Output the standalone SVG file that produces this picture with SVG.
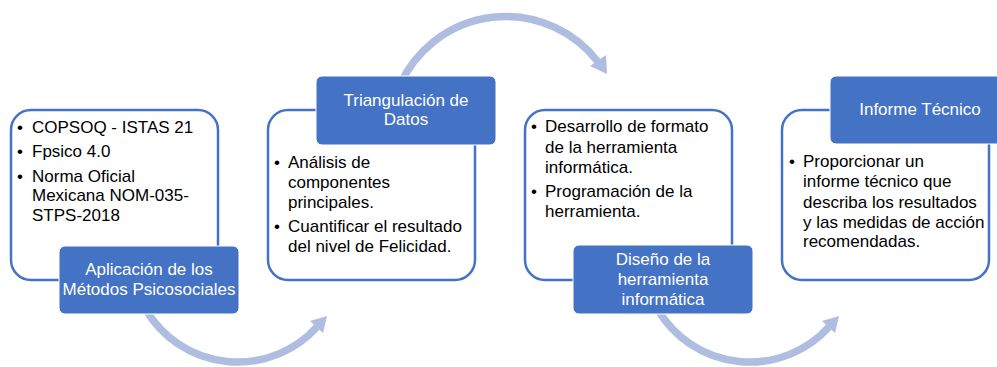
<svg xmlns="http://www.w3.org/2000/svg" width="997" height="367" viewBox="0 0 997 367">
<style>
.card{fill:#fff;stroke:#4472C4;stroke-width:2.5}
.lab{fill:#4472C4;stroke:#fff;stroke-width:1}
.t{font-family:"Liberation Sans",Arial,sans-serif;font-size:17px;fill:#000}
.w{font-family:"Liberation Sans",Arial,sans-serif;font-size:17px;fill:#fff;text-anchor:middle}
.arc{fill:none;stroke:#AEBDE0;stroke-width:7.5}
.head{fill:#AEBDE0}
</style>
<rect width="997" height="367" fill="#fff"/>
<g id="connectors">
<path class="arc" d="M146,310 A107,107 0 0 0 317,327"/>
<polygon class="head" points="327,316 310,321 323,333"/>
<path class="arc" d="M400,85 A116,116 0 0 1 598,62"/>
<polygon class="head" points="607,74 590,66 606,55"/>
<path class="arc" d="M658,310 A107,107 0 0 0 829,327"/>
<polygon class="head" points="839,316 822,321 835,333"/>
</g>
<g id="node1">
<rect class="card" x="11" y="110" width="207" height="170" rx="20"/>
<text class="t" x="17" y="133">•</text><text class="t" x="32" y="133">COPSOQ - ISTAS 21</text>
<text class="t" x="17" y="157">•</text><text class="t" x="32" y="157">Fpsico 4.0</text>
<text class="t" x="17" y="181.5">•</text><text class="t" x="32" y="181.5">Norma Oficial</text>
<text class="t" x="32" y="201">Mexicana NOM-035-</text>
<text class="t" x="32" y="220.5">STPS-2018</text>
<rect class="lab" x="59" y="246" width="180" height="68" rx="6"/>
<text class="w" x="149" y="275">Aplicación de los</text>
<text class="w" x="149" y="295">Métodos Psicosociales</text>
</g>
<g id="node2">
<rect class="card" x="268" y="110" width="207" height="170" rx="20"/>
<rect class="lab" x="316" y="76" width="180" height="69" rx="6"/>
<text class="w" x="406" y="106">Triangulación de</text>
<text class="w" x="406" y="125">Datos</text>
<text class="t" x="274" y="168">•</text><text class="t" x="288" y="168">Análisis de</text>
<text class="t" x="288" y="188">componentes</text>
<text class="t" x="288" y="208">principales.</text>
<text class="t" x="274" y="232">•</text><text class="t" x="288" y="232">Cuantificar el resultado</text>
<text class="t" x="288" y="252">del nivel de Felicidad.</text>
</g>
<g id="node3">
<rect class="card" x="525" y="110" width="207" height="170" rx="20"/>
<text class="t" x="531" y="132">•</text><text class="t" x="545" y="132">Desarrollo de formato</text>
<text class="t" x="545" y="153">de la herramienta</text>
<text class="t" x="545" y="173">informática.</text>
<text class="t" x="531" y="197">•</text><text class="t" x="545" y="197">Programación de la</text>
<text class="t" x="545" y="217">herramienta.</text>
<rect class="lab" x="573" y="245" width="180" height="69" rx="6"/>
<text class="w" x="663" y="265">Diseño de la</text>
<text class="w" x="663" y="285">herramienta</text>
<text class="w" x="663" y="305">informática</text>
</g>
<g id="node4">
<rect class="card" x="782" y="110" width="207" height="170" rx="20"/>
<rect class="lab" x="830" y="76" width="180" height="68" rx="6"/>
<text class="w" x="920" y="115">Informe Técnico</text>
<text class="t" x="789" y="167">•</text><text class="t" x="803" y="167">Proporcionar un</text>
<text class="t" x="803" y="187">informe técnico que</text>
<text class="t" x="803" y="207.5">describa los resultados</text>
<text class="t" x="803" y="228">y las medidas de acción</text>
<text class="t" x="803" y="247">recomendadas.</text>
</g>
</svg>
